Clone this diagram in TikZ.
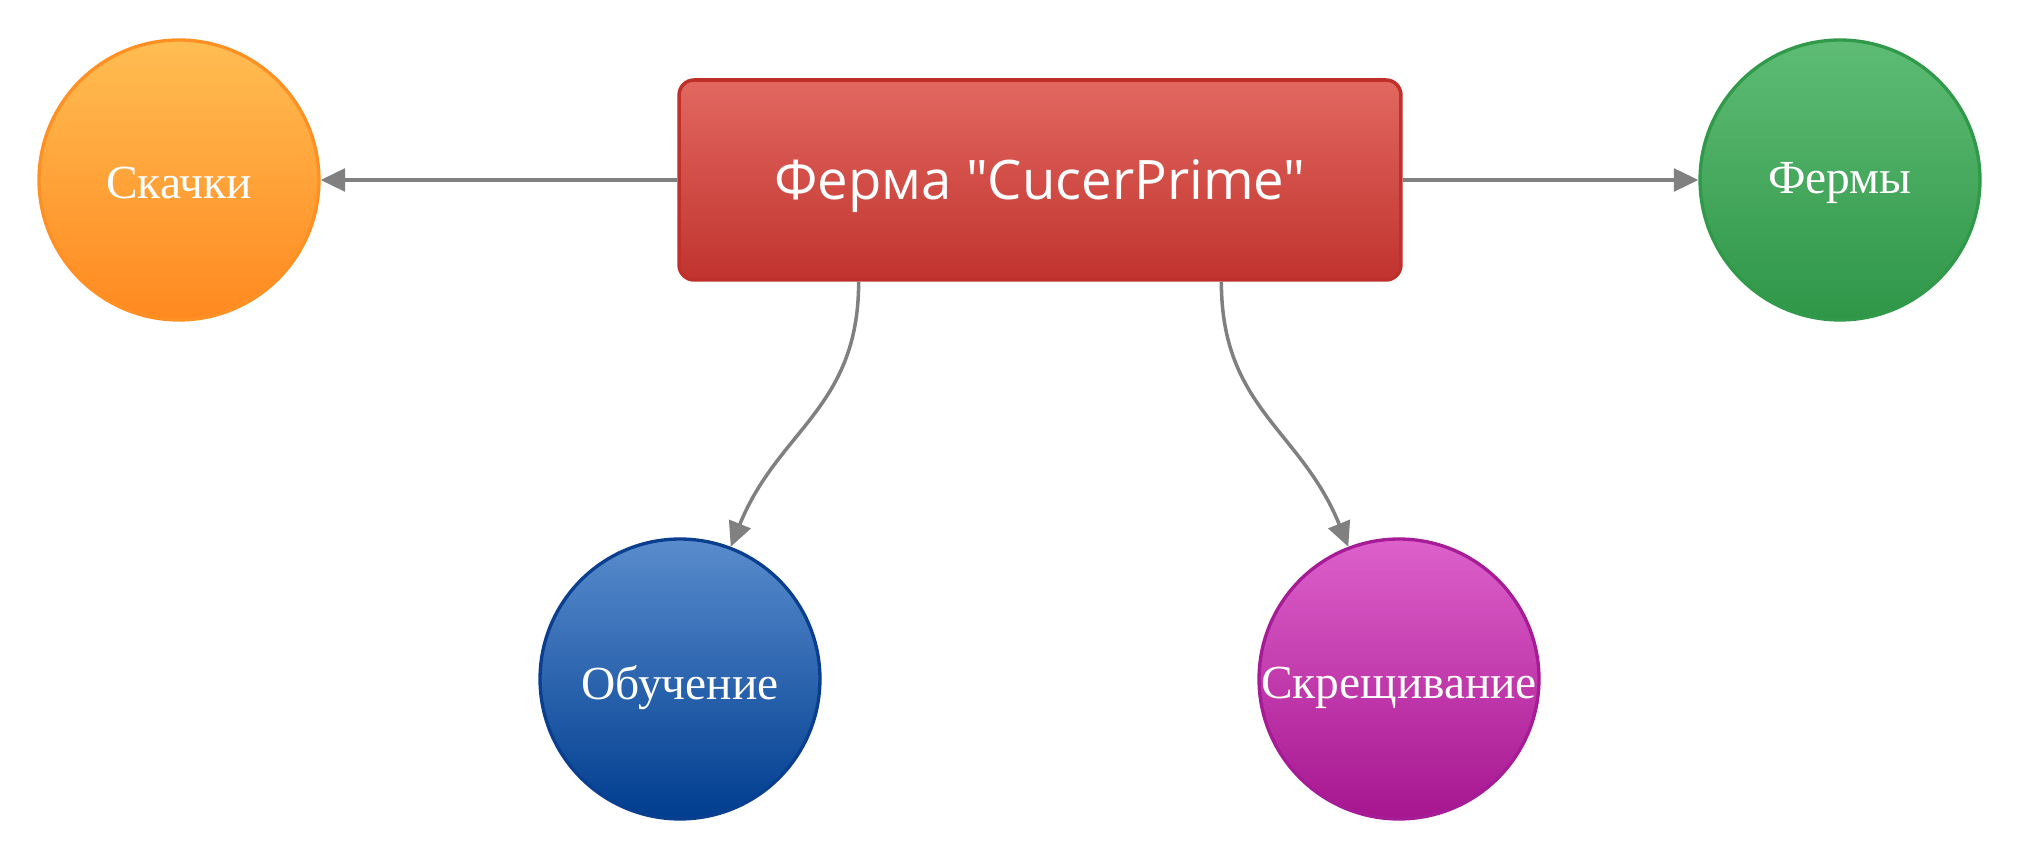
\documentclass[tikz,border=0pt]{standalone}
\usepackage{fontspec}
\setmainfont{Liberation Serif}
\newfontfamily\boxfont{Open Sans}
\usetikzlibrary{arrows.meta,shadings,calc}
\definecolor{link-gray}{RGB}{128,128,128}
\newcommand{\lowered}[2]{\raisebox{-#1}[\height][\depth]{#2}}
\tikzset{
    topic-box/.style = {rectangle, rounded corners=0.3cm, line width=2pt, minimum width=14.44cm, minimum height=4cm, text=white, font=\boxfont\fontsize{31}{37}\selectfont},
    topic-circle/.style = {circle, line width=1.9pt, minimum size=5.6cm, inner sep=0pt, text=white, font=\fontsize{27}{32}\selectfont},
    link/.style = {draw=link-gray, line width=2pt, -{Triangle[length=14pt,width=13pt]}},
}
\definecolor{red-top}{RGB}{226,104,96}
\definecolor{red-bot}{RGB}{193,51,46}
\definecolor{red-edge}{RGB}{192,48,43}
\definecolor{orange-top}{RGB}{255,189,82}
\definecolor{orange-bot}{RGB}{255,137,32}
\definecolor{orange-edge}{RGB}{255,145,36}
\definecolor{green-top}{RGB}{94,188,116}
\definecolor{green-bot}{RGB}{47,150,72}
\definecolor{green-edge}{RGB}{48,154,74}
\definecolor{blue-top}{RGB}{88,140,205}
\definecolor{blue-bot}{RGB}{0,61,143}
\definecolor{blue-edge}{RGB}{10,63,143}
\definecolor{pink-top}{RGB}{221,96,203}
\definecolor{pink-bot}{RGB}{166,22,143}
\definecolor{pink-edge}{RGB}{166,28,150}

\begin{document}
\begin{tikzpicture}[x=0.02cm, y=0.02cm]
\useasboundingbox (0,0) rectangle (2021,861);

\node [topic-box, draw=red-edge, top color=red-top, bottom color=red-bot] (farm) at (1040,681) {\lowered{3.5pt}{Ферма "CucerPrime"}};

\node [topic-circle, draw=orange-edge, top color=orange-top, bottom color=orange-bot] (jumps) at (179,681) {\lowered{1.5pt}{Скачки}};
\node [topic-circle, draw=green-edge, top color=green-top, bottom color=green-bot] (farms) at (1840,681) {\lowered{1.5pt}{Фермы}};
\node [topic-circle, draw=blue-edge, top color=blue-top, bottom color=blue-bot] (training) at (680,182) {\lowered{5pt}{Обучение}};
\node [topic-circle, draw=pink-edge, top color=pink-top, bottom color=pink-bot] (crossing) at (1399,182) {\lowered{5pt}{Скрещивание}};

% links out of the farm box
\draw [link] (farm.west) -- (jumps.east);
\draw [link] (farm.east) -- (farms.west);
\draw [link] ($(farm.south west)!0.25!(farm.south east)$) to[out=-90, in=68, looseness=1.1] (training.69);
\draw [link] ($(farm.south west)!0.75!(farm.south east)$) to[out=-90, in=112, looseness=1.1] (crossing.111);
\end{tikzpicture}
\end{document}
